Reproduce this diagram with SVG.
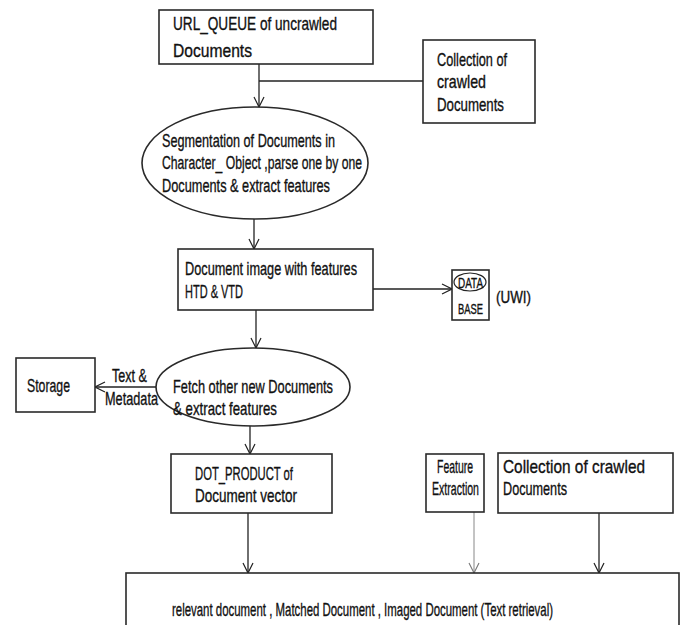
<svg xmlns="http://www.w3.org/2000/svg" width="682" height="625" viewBox="0 0 682 625">
<style>
.box{fill:#fff;stroke:#2a2a2a;stroke-width:1.6}
.t{font-family:"Liberation Sans",Arial,sans-serif;font-size:19px;fill:#111;stroke:#111;stroke-width:0.35}
.c{fill:none;stroke:#222;stroke-width:1.3}
.g{fill:none;stroke:#888;stroke-width:1}
</style>
<defs>
<marker id="arr" viewBox="0 0 12 12" refX="11" refY="6" markerWidth="12" markerHeight="12" markerUnits="userSpaceOnUse" orient="auto">
<path d="M1,1 L11,6 L1,11" fill="none" stroke="#222" stroke-width="1.2"/>
</marker>
<marker id="arrg" viewBox="0 0 12 12" refX="11" refY="6" markerWidth="12" markerHeight="12" markerUnits="userSpaceOnUse" orient="auto">
<path d="M1,1 L11,6 L1,11" fill="none" stroke="#777" stroke-width="1.1"/>
</marker>
</defs>
<rect width="682" height="625" fill="#fff"/>
<g id="connectors">
<line class="c" x1="259" y1="64" x2="259" y2="107" marker-end="url(#arr)"/>
<line class="c" x1="259" y1="81" x2="423" y2="81"/>
<line class="c" x1="254" y1="218" x2="254" y2="249" marker-end="url(#arr)"/>
<line class="c" x1="373" y1="289" x2="452" y2="289" marker-end="url(#arr)"/>
<line class="c" x1="256" y1="310" x2="256" y2="348" marker-end="url(#arr)"/>
<line class="c" x1="158" y1="387" x2="95" y2="387" marker-end="url(#arr)"/>
<line class="c" x1="250" y1="425" x2="250" y2="454" marker-end="url(#arr)"/>
<line class="c" x1="248" y1="513" x2="248" y2="573" marker-end="url(#arr)"/>
<line class="g" x1="474" y1="512" x2="474" y2="573" marker-end="url(#arrg)"/>
<line class="c" x1="599" y1="513" x2="599" y2="573" marker-end="url(#arr)"/>
</g>
<g id="url_queue">
<rect class="box" x="159" y="10" width="214" height="54"/>
<text class="t" x="173" y="30" textLength="164" lengthAdjust="spacingAndGlyphs">URL_QUEUE of uncrawled</text>
<text class="t" x="173" y="57" textLength="79" lengthAdjust="spacingAndGlyphs">Documents</text>
</g>
<g id="collection_top">
<rect class="box" x="423" y="40" width="112" height="83"/>
<text class="t" x="437" y="66" textLength="70" lengthAdjust="spacingAndGlyphs">Collection of</text>
<text class="t" x="437" y="88" textLength="49" lengthAdjust="spacingAndGlyphs">crawled</text>
<text class="t" x="437" y="111" textLength="67" lengthAdjust="spacingAndGlyphs">Documents</text>
</g>
<g id="segmentation">
<ellipse class="box" cx="255" cy="163" rx="113" ry="56"/>
<text class="t" x="162" y="147" textLength="173" lengthAdjust="spacingAndGlyphs">Segmentation of Documents in</text>
<text class="t" x="162" y="169" textLength="200" lengthAdjust="spacingAndGlyphs">Character_ Object ,parse one by one</text>
<text class="t" x="162" y="192" textLength="168" lengthAdjust="spacingAndGlyphs">Documents &amp; extract features</text>
</g>
<g id="document_image">
<rect class="box" x="178" y="249" width="195" height="61"/>
<text class="t" x="185" y="275" textLength="172" lengthAdjust="spacingAndGlyphs">Document image with features</text>
<text class="t" x="185" y="298" textLength="58" lengthAdjust="spacingAndGlyphs">HTD &amp; VTD</text>
</g>
<g id="database">
<rect class="box" x="452" y="270" width="37" height="50"/>
<ellipse cx="470" cy="282" rx="16" ry="9" fill="none" stroke="#222" stroke-width="1.2"/>
<text class="t" x="458" y="288" textLength="25" lengthAdjust="spacingAndGlyphs" style="font-size:14px">DATA</text>
<text class="t" x="458" y="314" textLength="25" lengthAdjust="spacingAndGlyphs" style="font-size:14px">BASE</text>
<text class="t" x="496" y="303" textLength="35" lengthAdjust="spacingAndGlyphs" style="font-size:16px">(UWI)</text>
</g>
<g id="fetch">
<ellipse class="box" cx="253" cy="387" rx="97" ry="39"/>
<text class="t" x="173" y="393" textLength="160" lengthAdjust="spacingAndGlyphs">Fetch other new Documents</text>
<text class="t" x="173" y="415" textLength="104" lengthAdjust="spacingAndGlyphs">&amp; extract features</text>
</g>
<g id="storage">
<rect class="box" x="16" y="358" width="79" height="54"/>
<text class="t" x="27" y="392" textLength="43" lengthAdjust="spacingAndGlyphs">Storage</text>
<text class="t" x="112" y="382" textLength="35" lengthAdjust="spacingAndGlyphs">Text &amp;</text>
<text class="t" x="105" y="405" textLength="53" lengthAdjust="spacingAndGlyphs">Metadata</text>
</g>
<g id="dot_product">
<rect class="box" x="171" y="454" width="161" height="59"/>
<text class="t" x="195" y="480" textLength="98" lengthAdjust="spacingAndGlyphs">DOT_PRODUCT of</text>
<text class="t" x="195" y="502" textLength="102" lengthAdjust="spacingAndGlyphs">Document vector</text>
</g>
<g id="feature_extraction">
<rect class="box" x="426" y="454" width="58" height="58"/>
<text class="t" x="437" y="473" textLength="36" lengthAdjust="spacingAndGlyphs">Feature</text>
<text class="t" x="432" y="495" textLength="47" lengthAdjust="spacingAndGlyphs">Extraction</text>
</g>
<g id="collection_bottom">
<rect class="box" x="498" y="453" width="175" height="60"/>
<text class="t" x="503" y="473" textLength="142" lengthAdjust="spacingAndGlyphs">Collection of crawled</text>
<text class="t" x="503" y="495" textLength="64" lengthAdjust="spacingAndGlyphs">Documents</text>
</g>
<g id="result">
<rect class="box" x="126" y="573" width="553" height="70"/>
<text class="t" x="172" y="616" textLength="381" lengthAdjust="spacingAndGlyphs">relevant document , Matched Document , Imaged Document (Text retrieval)</text>
</g>
</svg>
